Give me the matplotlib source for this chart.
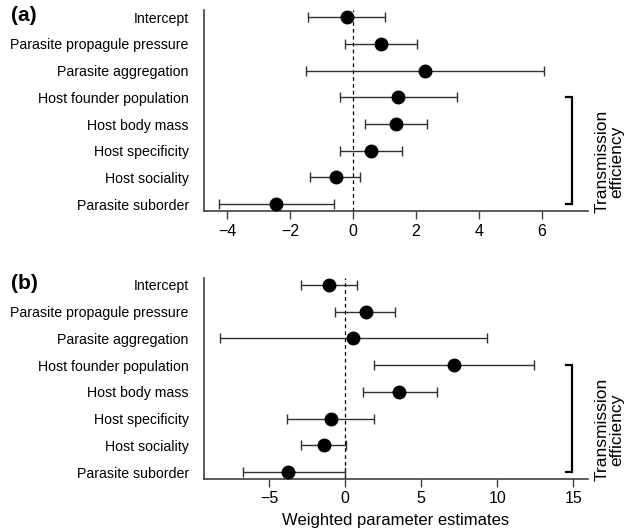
import numpy as np
import matplotlib.pyplot as plt
import matplotlib.transforms as mtransforms

plt.rcParams['font.family'] = ['Liberation Sans', 'DejaVu Sans']

# --- data ---
labels = ["Intercept", "Parasite propagule pressure", "Parasite aggregation",
          "Host founder population", "Host body mass", "Host specificity",
          "Host sociality", "Parasite suborder"]

# panel (a)
est_a = [-0.20, 0.89, 2.29, 1.43, 1.37, 0.57, -0.54, -2.43]
lo_a = [-1.42, -0.25, -1.48, -0.42, 0.39, -0.41, -1.36, -4.27]
hi_a = [1.01, 2.04, 6.07, 3.30, 2.35, 1.56, 0.23, -0.60]

# panel (b)
est_b = [-1.05, 1.36, 0.55, 7.14, 3.55, -0.92, -1.36, -3.72]
lo_b = [-2.88, -0.63, -8.24, 1.88, 1.15, -3.84, -2.88, -6.70]
hi_b = [0.78, 3.29, 9.31, 12.39, 6.01, 1.93, 0.05, -0.03]

ticks_a = [-4, -2, 0, 2, 4, 6]
ticks_b = [-5, 0, 5, 10, 15]

fig = plt.figure(figsize=(6.26, 5.31), dpi=100)


def panel(rect, est, lo, hi, ticks, xlim, tag, xlabel=None):
    ax = fig.add_axes(rect)
    y = np.arange(len(labels))[::-1] + 1
    est = np.array(est)
    err = [est - np.array(lo), np.array(hi) - est]
    ax.axvline(0, color='black', lw=0.9, ls=(0, (3, 2.5)), zorder=1)
    ax.errorbar(est, y, xerr=err, fmt='o', color='black', ecolor='#303030',
                elinewidth=1.0, capsize=3.5, capthick=1.0, markersize=9, zorder=3)
    ax.set_yticks(y)
    ax.set_yticklabels(labels, fontsize=10.2)
    ax.tick_params(axis='y', length=0, pad=11)
    ax.set_xticks(ticks)
    ax.set_xticklabels([str(t).replace('-', '\u2212') for t in ticks], fontsize=11.5)
    ax.tick_params(axis='x', length=6, width=1, color='#404040', pad=3)
    ax.set_xlim(*xlim)
    ax.set_ylim(0.74, 8.26)
    for s in ['top', 'right']:
        ax.spines[s].set_visible(False)
    for s in ['left', 'bottom']:
        ax.spines[s].set_color('#404040')
        ax.spines[s].set_linewidth(1.2)
    if xlabel:
        ax.set_xlabel(xlabel, fontsize=12, labelpad=5)

    # bracket for transmission efficiency terms
    tr = mtransforms.blended_transform_factory(ax.transAxes, ax.transData)
    bx, arm = 0.958, 0.942
    ax.plot([arm, bx, bx, arm], [5, 5, 1, 1], color='black', lw=1.6,
            transform=tr, clip_on=False, solid_joinstyle='miter')
    ax.text(1.057, 0.245, "Transmission\nefficiency", rotation=90,
            transform=ax.transAxes, ha='center', va='center', fontsize=12.5,
            linespacing=1.0)
    fig.text(0.018, rect[1] + rect[3] - 0.01, tag, fontsize=15,
             fontweight='bold', va='center', ha='left')
    return ax


panel([0.326, 0.6026, 0.613, 0.378], est_a, lo_a, hi_a, ticks_a,
      (-4.73, 7.46), "(a)")
panel([0.326, 0.098, 0.613, 0.3785], est_b, lo_b, hi_b, ticks_b,
      (-9.26, 15.94), "(b)", xlabel="Weighted parameter estimates")

fig.savefig("out.png", dpi=100)
